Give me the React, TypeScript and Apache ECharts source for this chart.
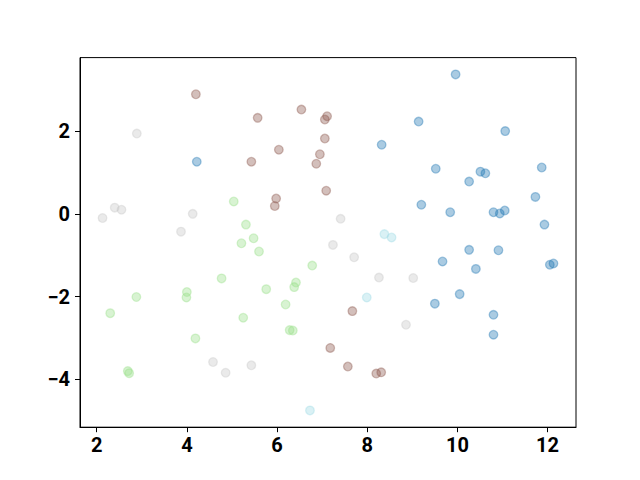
import React, { useEffect, useRef } from "react";
import * as echarts from "echarts";

const clusterColors = ["#1f77b4", "#98df8a", "#8c564b", "#c7c7c7", "#9edae5"];

const c0X = [4.22, 8.32, 9.96, 9.14, 11.06, 9.52, 10.51, 10.62, 11.87, 10.26, 11.73, 9.2, 9.84, 10.8, 10.94, 11.05, 11.93, 10.26, 10.91, 9.67, 10.41, 12.05, 12.13, 10.05, 9.5, 10.8, 10.8];
const c0Y = [1.26, 1.67, 3.37, 2.23, 2.0, 1.09, 1.02, 0.98, 1.12, 0.78, 0.41, 0.22, 0.04, 0.04, 0.01, 0.08, -0.26, -0.87, -0.88, -1.15, -1.33, -1.23, -1.2, -1.94, -2.17, -2.44, -2.92];

const c1X = [5.04, 5.31, 5.21, 5.48, 5.6, 6.78, 6.42, 6.38, 5.76, 6.19, 5.25, 6.28, 6.35, 4.77, 2.88, 4.0, 3.99, 2.3, 4.19, 2.69, 2.72];
const c1Y = [0.3, -0.26, -0.71, -0.59, -0.91, -1.25, -1.66, -1.77, -1.82, -2.19, -2.51, -2.81, -2.82, -1.56, -2.01, -1.89, -2.02, -2.4, -3.01, -3.8, -3.85];

const c2X = [4.2, 5.57, 6.54, 7.11, 7.06, 7.06, 6.04, 6.95, 6.87, 5.43, 7.09, 5.98, 5.95, 7.67, 7.18, 7.57, 8.2, 8.31];
const c2Y = [2.89, 2.32, 2.52, 2.36, 2.28, 1.82, 1.55, 1.44, 1.21, 1.26, 0.56, 0.37, 0.19, -2.35, -3.24, -3.69, -3.86, -3.83];

const c3X = [2.89, 2.4, 2.55, 2.13, 4.13, 3.87, 7.41, 7.24, 7.71, 8.26, 9.02, 8.86, 5.43, 4.58, 4.86];
const c3Y = [1.94, 0.15, 0.1, -0.1, 0.0, -0.43, -0.12, -0.75, -1.05, -1.54, -1.55, -2.68, -3.66, -3.58, -3.84];

const c4X = [8.38, 8.54, 7.99, 6.73];
const c4Y = [-0.49, -0.57, -2.02, -4.75];

const xTicks = [2, 4, 6, 8, 10, 12];
const yTicks = [-4, -2, 0, 2];

const clustersX = [c0X, c1X, c2X, c3X, c4X];
const clustersY = [c0Y, c1Y, c2Y, c3Y, c4Y];

function hexToRgba(hex: string, a: number) {
  const r = parseInt(hex.slice(1, 3), 16);
  const g = parseInt(hex.slice(3, 5), 16);
  const b = parseInt(hex.slice(5, 7), 16);
  return `rgba(${r},${g},${b},${a})`;
}

export default function App() {
  const ref = useRef<HTMLDivElement>(null);
  useEffect(() => {
    if (!ref.current) return;
    const chart = echarts.init(ref.current, undefined, { renderer: "svg" });
    const allX = clustersX.flat();
    const allY = clustersY.flat();
    const xmin0 = Math.min(...allX), xmax0 = Math.max(...allX);
    const ymin0 = Math.min(...allY), ymax0 = Math.max(...allY);
    const mx = (xmax0 - xmin0) * 0.05;
    const my = (ymax0 - ymin0) * 0.05;
    const labelStyle = {
      fontFamily: "Roboto",
      fontWeight: "bold" as const,
      fontSize: 20,
      color: "#000",
    };
    const series = clustersX.map((xs, ci) => ({
      type: "scatter",
      data: xs.map((x, i) => [x, clustersY[ci][i]]),
      symbol: "circle",
      symbolSize: 8.6,
      itemStyle: {
        color: hexToRgba(clusterColors[ci], 0.38),
        borderColor: hexToRgba(clusterColors[ci], 0.38),
        borderWidth: 1.3,
        opacity: 1,
      },
      emphasis: { disabled: true },
    }));
    const tickStyle = { color: "#000", width: 1 };
    chart.setOption({
      animation: false,
      backgroundColor: "#fff",
      grid: {
        left: 80,
        right: 64,
        top: 57.6,
        bottom: 52.8,
        show: true,
        borderColor: "#000",
        borderWidth: 1,
        backgroundColor: "transparent",
      },
      xAxis: {
        type: "value",
        min: xmin0 - mx,
        max: xmax0 + mx,
        splitLine: { show: false },
        axisLine: { show: true, onZero: false, lineStyle: tickStyle },
        axisTick: { show: true, inside: false, length: 5, lineStyle: tickStyle, customValues: xTicks },
        axisLabel: { ...labelStyle, margin: 8, customValues: xTicks },
      },
      yAxis: {
        type: "value",
        min: ymin0 - my,
        max: ymax0 + my,
        splitLine: { show: false },
        axisLine: { show: true, onZero: false, lineStyle: tickStyle },
        axisTick: { show: true, inside: false, length: 5, lineStyle: tickStyle, customValues: yTicks },
        axisLabel: {
          ...labelStyle,
          margin: 10,
          customValues: yTicks,
          formatter: (v: number) => (v < 0 ? "\u2212" + Math.abs(v) : String(v)),
        },
      },
      series,
    });
    return () => chart.dispose();
  }, []);
  return (
    <div
      ref={ref}
      style={{ position: "fixed", left: 0, top: 0, width: 640, height: 480, background: "#fff" }}
    />
  );
}
